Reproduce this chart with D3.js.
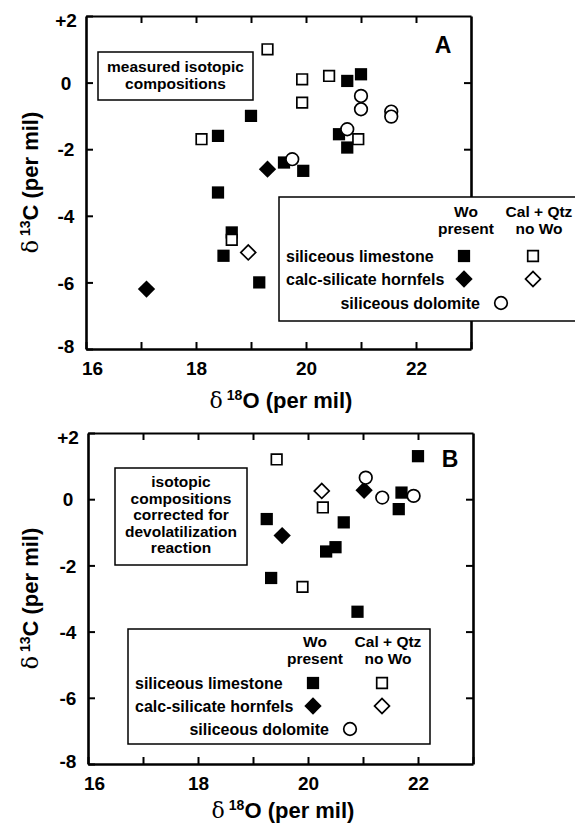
<!DOCTYPE html>
<html><head><meta charset="utf-8">
<script src="https://cdn.jsdelivr.net/npm/d3@7"></script>
<style>
body{margin:0;background:#fff}
svg{display:block;background:#fff}
text{font-family:"Liberation Sans",Arial,Helvetica,sans-serif;font-weight:bold;fill:#000}
</style>
</head><body>
<svg id="c" width="575" height="824"></svg>
<script>
// ---- tick values / labels ----
const xTicks = [16,17,18,19,20,21,22,23];
const xLabels = [16,18,20,22];
const yTicks = [2,0,-2,-4,-6,-8];
const yInnerTicks = [0,-2,-4,-6];
const legendRows = ["siliceous limestone","calc-silicate hornfels","siliceous dolomite"];
const legendColWo = ["Wo","present"];
const legendColNoWo = ["Cal + Qtz","no Wo"];
const titleA = ["measured isotopic","compositions"];
const titleB = ["isotopic","compositions","corrected for","devolatilization","reaction"];

// ---- Panel A data: [δ18O, δ13C] ----
const aLimestoneWo = [[19.0,-1.0],[18.4,-1.6],[19.6,-2.4],[19.95,-2.65],[18.4,-3.3],[18.65,-4.5],[18.5,-5.2],[19.15,-6.0],[20.75,0.05],[21.0,0.25],[20.6,-1.55],[20.75,-1.95]];
const aLimestoneNoWo = [[19.3,1.0],[18.1,-1.7],[19.93,0.1],[20.42,0.2],[19.93,-0.6],[20.95,-1.7],[18.65,-4.72]];
const aHornfelsWo = [[19.3,-2.6],[17.1,-6.2]];
const aHornfelsNoWo = [[18.95,-5.1]];
const aDolomite = [[19.75,-2.3],[21.0,-0.4],[21.0,-0.8],[21.55,-0.87],[21.55,-1.02],[20.75,-1.4]];

// ---- Panel B data ----
const bLimestoneWo = [[19.25,-0.6],[19.33,-2.38],[20.65,-0.7],[20.33,-1.58],[20.5,-1.45],[21.7,0.2],[21.65,-0.3],[22.0,1.3],[20.9,-3.4]];
const bLimestoneNoWo = [[19.43,1.2],[20.27,-0.25],[19.9,-2.65]];
const bHornfelsWo = [[19.53,-1.1],[21.02,0.27]];
const bHornfelsNoWo = [[20.25,0.25]];
const bDolomite = [[21.05,0.65],[21.35,0.05],[21.92,0.1]];

const svg = d3.select("#c");
const fmt = d => d > 0 ? "+" + d : (d === 0 ? "0" : "-" + Math.abs(d));

const sym = {
  fsq: d3.symbol().type(d3.symbolSquare).size(150),
  osq: d3.symbol().type(d3.symbolSquare).size(112),
  fdi: d3.symbol().type(d3.symbolSquare).size(150),
  odi: d3.symbol().type(d3.symbolSquare).size(112),
  cir: d3.symbol().type(d3.symbolCircle).size(125)
};
const styles = {
  fsq: {fill:"#000", stroke:"none", rot:0},
  osq: {fill:"#fff", stroke:"#000", rot:0},
  fdi: {fill:"#000", stroke:"none", rot:45},
  odi: {fill:"#fff", stroke:"#000", rot:45},
  cir: {fill:"#fff", stroke:"#000", rot:0}
};
function drawMark(g, kind, px, py) {
  const s = styles[kind];
  g.append("path").attr("d", sym[kind]())
    .attr("transform", `translate(${px},${py}) rotate(${s.rot})`)
    .attr("fill", s.fill).attr("stroke", s.stroke).attr("stroke-width", 1.7);
}

function panel(cfg) {
  const x = d3.scaleLinear().domain([16,23]).range([cfg.l, cfg.r]);
  const y = d3.scaleLinear().domain([-8,2]).range([cfg.b, cfg.t]);
  const g = svg.append("g");

  // points
  const series = [["fsq",cfg.limeWo],["osq",cfg.limeNoWo],["fdi",cfg.hornWo],["odi",cfg.hornNoWo],["cir",cfg.dolo]];
  series.forEach(([k, arr]) => arr.forEach(d => drawMark(g, k, x(d[0]), y(d[1]))));

  // axes
  const ax = [];
  ax.push(g.append("g").attr("transform",`translate(0,${cfg.b})`)
    .call(d3.axisBottom(x).tickValues(xTicks).tickSizeInner(-7).tickSizeOuter(0).tickPadding(13)
      .tickFormat(d => xLabels.includes(d) ? String(d) : "")));
  ax.push(g.append("g").attr("transform",`translate(0,${cfg.t})`)
    .call(d3.axisTop(x).tickValues(xTicks.slice(1,-1)).tickSizeInner(-7).tickSizeOuter(0).tickFormat("")));
  ax.push(g.append("g").attr("transform",`translate(${cfg.l},0)`)
    .call(d3.axisLeft(y).tickValues(yTicks).tickSizeInner(-7).tickSizeOuter(0).tickFormat(fmt)));
  ax.push(g.append("g").attr("transform",`translate(${cfg.r},0)`)
    .call(d3.axisRight(y).tickValues(yInnerTicks).tickSizeInner(-7).tickSizeOuter(0).tickFormat("")));
  ax.forEach(a => {
    a.select(".domain").attr("stroke-width", 2.6).attr("stroke","#000");
    a.selectAll(".tick line").attr("stroke-width", 2).attr("stroke","#000");
    a.selectAll("text").style("font-size","19px").attr("fill","#000");
  });
  ax[1].select(".domain").attr("stroke-width", 2);
  ax[0].selectAll(".tick text").attr("dx", d => d === 16 ? 6 : 0);
  ax[2].selectAll(".tick text").attr("x", -20).attr("text-anchor","middle")
    .attr("dy", d => d === 2 ? "0.55em" : (d === -8 ? "0.18em" : "0.35em"));

  // axis titles
  const xt = g.append("text").attr("x", cfg.xtX).attr("y", cfg.xtY).attr("text-anchor","middle").style("font-size","22px");
  xt.append("tspan").style("font-family","'DejaVu Serif',serif").style("font-weight","normal").text("δ");
  xt.append("tspan").attr("dx",4).attr("dy",-8).style("font-size","14px").text("18");
  xt.append("tspan").attr("dy",8).text("O (per mil)");

  const yt = g.append("text").attr("transform",`translate(${cfg.ytX},${(cfg.t+cfg.b)/2}) rotate(-90)`)
    .attr("text-anchor","middle").style("font-size","22px");
  yt.append("tspan").style("font-family","'DejaVu Serif',serif").style("font-weight","normal").text("δ");
  yt.append("tspan").attr("dx",4).attr("dy",-8).style("font-size","14px").text("13");
  yt.append("tspan").attr("dy",8).text("C (per mil)");

  // panel letter
  g.append("text").attr("x", cfg.letterX).attr("y", cfg.letterY).attr("text-anchor","middle")
    .style("font-size","23px").text(cfg.letter);

  // title box
  const tb = cfg.tbox;
  g.append("rect").attr("x",tb.x).attr("y",tb.y).attr("width",tb.w).attr("height",tb.h)
    .attr("fill","#fff").attr("stroke","#000").attr("stroke-width",1.5);
  cfg.title.forEach((line,i) => g.append("text").attr("x", tb.x + tb.w/2).attr("y", tb.base + i*tb.lh)
    .attr("text-anchor","middle").style("font-size","15.5px").text(line));

  // legend
  const L = cfg.leg;
  const lg = g.append("g").attr("transform",`translate(${L.x},${L.y})`);
  lg.append("rect").attr("width",L.w).attr("height",L.h).attr("fill","#fff").attr("stroke","#000").attr("stroke-width",1.5);
  legendColWo.forEach((t,i) => lg.append("text").attr("x",187).attr("y",L.rows[i]).attr("dy","0.35em")
    .attr("text-anchor","middle").style("font-size","15.5px").text(t));
  legendColNoWo.forEach((t,i) => lg.append("text").attr("x",260).attr("y",L.rows[i]).attr("dy","0.35em")
    .attr("text-anchor","middle").style("font-size","15.5px").text(t));
  lg.append("text").attr("x",7).attr("y",L.rows[2]).attr("dy","0.35em").style("font-size","16px").text(legendRows[0]);
  lg.append("text").attr("x",7).attr("y",L.rows[3]).attr("dy","0.35em").style("font-size","16px").text(legendRows[1]);
  lg.append("text").attr("x",201).attr("y",L.rows[4]).attr("dy","0.35em").attr("text-anchor","end").style("font-size","16px").text(legendRows[2]);
  drawMark(lg,"fsq",185,L.rows[2]);
  drawMark(lg,"osq",254,L.rows[2]);
  drawMark(lg,"fdi",185,L.rows[3]);
  drawMark(lg,"odi",254,L.rows[3]);
  drawMark(lg,"cir",222,L.rows[4]);
}

panel({
  l:86, r:471, t:16, b:349, xtX:281, xtY:408, ytX:38, letter:"A", letterX:443, letterY:53,
  limeWo:aLimestoneWo, limeNoWo:aLimestoneNoWo, hornWo:aHornfelsWo, hornNoWo:aHornfelsNoWo, dolo:aDolomite,
  title:titleA, tbox:{x:98,y:52,w:155,h:48,base:72,lh:17},
  leg:{x:279,y:197,w:300,h:124,rows:[15,32,59,82,106]}
});
panel({
  l:88, r:473, t:433, b:764, xtX:283, xtY:818, ytX:38, letter:"B", letterX:450, letterY:467,
  limeWo:bLimestoneWo, limeNoWo:bLimestoneNoWo, hornWo:bHornfelsWo, hornNoWo:bHornfelsNoWo, dolo:bDolomite,
  title:titleB, tbox:{x:115,y:468,w:132,h:97,base:487,lh:16.5},
  leg:{x:128,y:629,w:302,h:115,rows:[13,30,54,77,100]}
});
</script>
</body></html>
